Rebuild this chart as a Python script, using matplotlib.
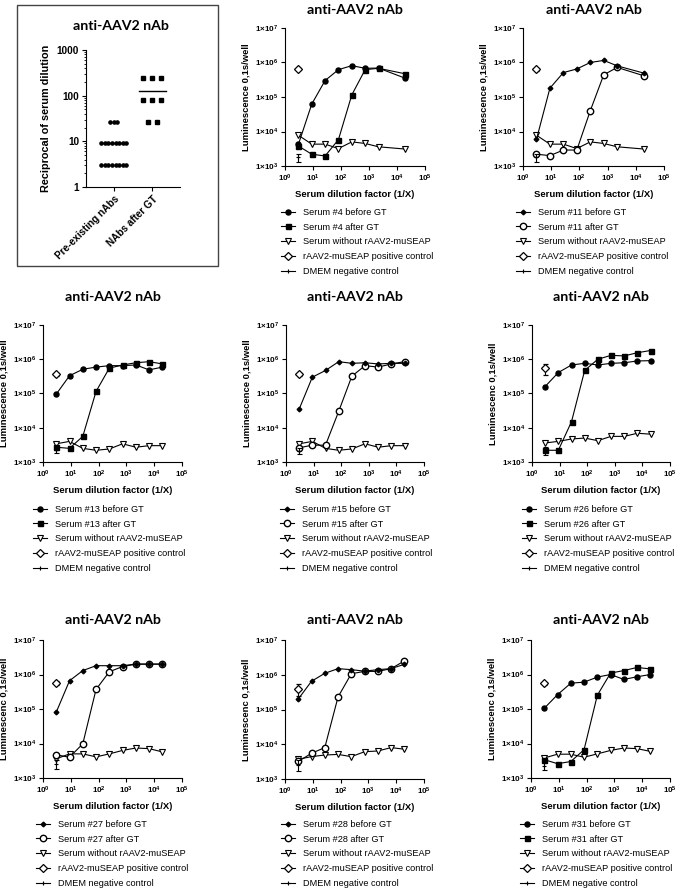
import numpy as np
import matplotlib
matplotlib.use('Agg')
import matplotlib.pyplot as plt
from matplotlib.ticker import FixedLocator, FuncFormatter, NullLocator, LogLocator, NullFormatter
from matplotlib.lines import Line2D
from matplotlib.patches import Rectangle

plt.rcParams['font.family'] = ['Liberation Sans', 'DejaVu Sans']
plt.rcParams['mathtext.fontset'] = 'custom'
plt.rcParams['mathtext.rm'] = 'Liberation Sans'
plt.rcParams['mathtext.bf'] = 'Liberation Sans:bold'
plt.rcParams['mathtext.it'] = 'Liberation Sans:italic'

# ---------------- data ----------------
TITLE = "anti-AAV2 nAb"
# panel A: titers
pre_titers = [27, 27, 27, 9, 9, 9, 9, 9, 9, 9, 9, 3, 3, 3, 3, 3, 3, 3, 3]
post_titers = [243, 243, 243, 81, 81, 81, 27, 27]
groupA = ["Pre-existing nAbs", "NAbs after GT"]

dil8 = [3, 9, 27, 81, 243, 729, 2187, 19683]
dil9 = [3, 9, 27, 81, 243, 729, 2187, 6561, 19683]

s4_before = [4.2e3, 6.2e4, 3.0e5, 6.2e5, 8.1e5, 6.8e5, 6.9e5, 3.5e5]
s4_after = [3.8e3, 2.2e3, 1.95e3, 5.8e3, 1.15e5, 6.2e5, 6.8e5, 4.7e5]
ctrl_4 = [7.8e3, 4.3e3, 4.3e3, 3.2e3, 5.0e3, 4.5e3, 3.6e3, 3.1e3]

s11_before = [5.9e3, 1.8e5, 5.1e5, 6.5e5, 1.0e6, 1.15e6, 8.0e5, 4.9e5]
s11_after = [2.2e3, 2.0e3, 2.9e3, 2.9e3, 4.0e4, 4.4e5, 7.2e5, 4.1e5]
ctrl_11 = [7.8e3, 4.3e3, 4.3e3, 3.2e3, 5.0e3, 4.5e3, 3.6e3, 3.1e3]

s13_before = [9.6e4, 3.3e5, 5.1e5, 5.9e5, 6.5e5, 6.5e5, 6.8e5, 4.9e5, 5.9e5]
s13_after = [2.7e3, 2.5e3, 5.6e3, 1.15e5, 5.5e5, 6.8e5, 7.9e5, 8.5e5, 7.3e5]
ctrl_13 = [3.4e3, 4.0e3, 2.5e3, 2.2e3, 2.4e3, 3.4e3, 2.7e3, 3.0e3, 3.0e3]

s15_before = [3.5e4, 3.0e5, 4.7e5, 8.5e5, 7.6e5, 7.9e5, 7.3e5, 7.6e5, 7.6e5]
s15_after = [2.6e3, 3.1e3, 3.1e3, 3.0e4, 3.2e5, 6.5e5, 5.9e5, 7.3e5, 8.5e5]
ctrl_15 = [3.4e3, 4.0e3, 2.5e3, 2.2e3, 2.4e3, 3.4e3, 2.7e3, 3.0e3, 3.0e3]

s26_before = [1.6e5, 4.1e5, 6.8e5, 7.6e5, 6.8e5, 7.6e5, 7.9e5, 8.9e5, 9.1e5]
s26_after = [2.2e3, 2.2e3, 1.5e4, 4.7e5, 1.0e6, 1.3e6, 1.25e6, 1.55e6, 1.8e6]
ctrl_26 = [3.6e3, 4.0e3, 4.7e3, 5.0e3, 4.2e3, 5.6e3, 5.6e3, 6.9e3, 6.5e3]

s27_before = [8.1e4, 6.6e5, 1.3e6, 1.8e6, 1.8e6, 1.8e6, 2.0e6, 2.0e6, 2.0e6]
s27_after = [4.7e3, 4.0e3, 9.8e3, 3.7e5, 1.2e6, 1.7e6, 2.0e6, 2.0e6, 2.0e6]
ctrl_27 = [3.6e3, 5.0e3, 5.0e3, 4.1e3, 5.0e3, 6.3e3, 7.4e3, 7.1e3, 5.7e3]

s28_before = [2.0e5, 6.5e5, 1.1e6, 1.5e6, 1.4e6, 1.27e6, 1.4e6, 1.5e6, 2.0e6]
s28_after = [3.2e3, 5.5e3, 8.0e3, 2.3e5, 1.07e6, 1.25e6, 1.25e6, 1.5e6, 2.5e6]
ctrl_28 = [3.7e3, 4.4e3, 4.9e3, 5.1e3, 4.4e3, 6.1e3, 6.4e3, 8.0e3, 7.2e3]

s31_before = [1.05e5, 2.6e5, 5.6e5, 6.0e5, 8.4e5, 1.0e6, 7.2e5, 8.6e5, 1.0e6]
s31_after = [3.4e3, 2.6e3, 3.0e3, 6.6e3, 2.5e5, 1.1e6, 1.3e6, 1.6e6, 1.45e6]
ctrl_31 = [3.8e3, 4.9e3, 4.9e3, 4.0e3, 5.0e3, 6.3e3, 7.4e3, 7.1e3, 5.9e3]

# positive control (mean, err) and DMEM negative (mean, err) per panel
pos_vals = {"4": (6.5e5, 0.6e5), "11": (6.3e5, 0.6e5), "13": (3.6e5, 0.3e5), "15": (3.6e5, 0.3e5),
            "26": (5.5e5, 2.0e5), "27": (5.6e5, 0.8e5), "28": (4.0e5, 1.5e5), "31": (5.6e5, 0.6e5)}
neg_vals = {"4": (1.8e3, 0.5e3), "11": (1.8e3, 0.5e3), "13": (2.2e3, 0.4e3), "15": (2.1e3, 0.4e3),
            "26": (2.2e3, 0.6e3), "27": (2.6e3, 0.8e3), "28": (2.6e3, 0.9e3), "31": (2.3e3, 0.6e3)}

# ---------------- figure ----------------
W, H = 685, 896
fig = plt.figure(figsize=(W / 100, H / 100), dpi=100)


def add_ax(x0, x1, y0, y1):
    return fig.add_axes([x0 / W, 1 - y1 / H, (x1 - x0) / W, (y1 - y0) / H])


TITLE_FONT = dict(family=['Lato', 'DejaVu Sans'], fontweight='bold', fontsize=10.2)
LW = 0.8

st_circle_f = dict(marker='o', ms=3.6, mfc='k', mec='k')
st_square_f = dict(marker='s', ms=3.6, mfc='k', mec='k')
st_diam_f = dict(marker='D', ms=2.4, mfc='k', mec='k')
st_circle_o = dict(marker='o', ms=4.6, mfc='white', mec='k', mew=1.0)
st_tri = dict(marker='v', ms=4.8, mfc='white', mec='k', mew=0.8)
st_pos = dict(marker='D', ms=3.8, mfc='white', mec='k', mew=0.9)
st_neg = dict(marker='+', ms=3.2, mec='k', mew=0.8)


def style_lum(ax, ylabel):
    ax.set_xscale('log')
    ax.set_yscale('log')
    ax.set_xlim(1, 1e5)
    ax.set_ylim(1e3, 1e7)
    for s in ['top', 'right']:
        ax.spines[s].set_visible(False)
    for s in ['left', 'bottom']:
        ax.spines[s].set_linewidth(LW)
    ax.xaxis.set_major_locator(FixedLocator([10.0 ** e for e in range(0, 6)]))
    ax.yaxis.set_major_locator(FixedLocator([10.0 ** e for e in range(3, 8)]))
    ax.xaxis.set_minor_locator(NullLocator())
    ax.yaxis.set_minor_locator(NullLocator())
    ax.xaxis.set_major_formatter(FuncFormatter(lambda v, p: r"$\mathbf{10^{%d}}$" % round(np.log10(v))))
    ax.yaxis.set_major_formatter(FuncFormatter(lambda v, p: r"$\mathbf{1{\times}10^{%d}}$" % round(np.log10(v))))
    ax.tick_params(length=3, width=LW, labelsize=5.8, pad=2)
    ax.set_xlabel("Serum dilution factor (1/X)", fontsize=6.8, fontweight='bold', labelpad=4)
    ax.set_ylabel(ylabel, fontsize=6.8, fontweight='bold', labelpad=3)


def lum_panel(rect, title_y, key, xs, before, after, ctrl, st_b, st_a, ylabel, leg_xy):
    ax = add_ax(*rect)
    style_lum(ax, ylabel)
    ax.plot(xs, ctrl, color='k', lw=LW, zorder=3, **st_tri)
    ax.plot(xs, after, color='k', lw=LW, zorder=4, **st_a)
    ax.plot(xs, before, color='k', lw=LW, zorder=5, **st_b)
    pm, pe = pos_vals[key]
    ax.errorbar([xs[0]], [pm], yerr=[[pe], [pe]], color='k', lw=LW, capsize=1.8, capthick=LW,
                zorder=6, **st_pos)
    nm, ne = neg_vals[key]
    ax.errorbar([xs[0]], [nm], yerr=[[ne], [ne]], color='k', lw=LW, capsize=1.8, capthick=LW,
                zorder=6, **st_neg)
    x0, x1 = rect[0], rect[1]
    fig.text((x0 + x1) / 2 / W, 1 - title_y / H, TITLE, ha='center', va='center', **TITLE_FONT)
    handles = [Line2D([], [], color='k', lw=LW, **st_b), Line2D([], [], color='k', lw=LW, **st_a),
               Line2D([], [], color='k', lw=LW, **st_tri), Line2D([], [], color='k', lw=LW, **st_pos),
               Line2D([], [], color='k', lw=LW, **st_neg)]
    labels = ["Serum #%s before GT" % key, "Serum #%s after GT" % key, "Serum without rAAV2-muSEAP",
              "rAAV2-muSEAP positive control", "DMEM negative control"]
    fig.legend(handles, labels, loc='upper left', bbox_to_anchor=(leg_xy[0] / W, 1 - leg_xy[1] / H),
               frameon=False, fontsize=6.6, handlelength=1.5, handletextpad=0.9, labelspacing=0.62,
               borderpad=0, borderaxespad=0, numpoints=1)
    return ax


# ---------- panel A ----------
fig.add_artist(Rectangle((17 / W, 1 - 266 / H), (218 - 17) / W, (266 - 5) / H, transform=fig.transFigure,
                         fill=False, ec='#444444', lw=1.0))
axA = add_ax(86, 180, 50, 187)
axA.set_yscale('log')
axA.set_ylim(1, 1000)
axA.set_xlim(-0.72, 1.72)
for s in ['top', 'right']:
    axA.spines[s].set_visible(False)
for s in ['left', 'bottom']:
    axA.spines[s].set_linewidth(LW)


def swarm(vals, center, spacing):
    vals = np.asarray(vals, dtype=float)
    xs = np.zeros_like(vals)
    for v in np.unique(vals):
        idx = np.where(vals == v)[0]
        n = len(idx)
        xs[idx] = center + (np.arange(n) - (n - 1) / 2) * spacing
    return xs, vals


xp, yp = swarm(pre_titers, 0, 0.092)
axA.plot(xp, yp, 'o', ms=2.3, color='k', mec='k')
xq, yq = swarm(post_titers, 1, 0.23)
axA.plot(xq, yq, 's', ms=3.0, color='k', mec='k')
axA.plot([-0.34, 0.34], [np.mean(pre_titers)] * 2, color='k', lw=1.0)
axA.plot([1 - 0.35, 1 + 0.35], [np.mean(post_titers)] * 2, color='k', lw=1.0)
axA.set_xticks([0, 1])
axA.set_xticklabels(groupA, rotation=45, ha='right', rotation_mode='anchor', fontsize=7.5, fontweight='bold')
axA.yaxis.set_major_locator(FixedLocator([1, 10, 100, 1000]))
axA.yaxis.set_major_formatter(FuncFormatter(lambda v, p: "%d" % v))
axA.yaxis.set_minor_locator(LogLocator(base=10, subs=np.arange(2, 10)))
axA.yaxis.set_minor_formatter(NullFormatter())
axA.tick_params(which='major', length=3, width=LW, labelsize=7.2, pad=2)
axA.tick_params(which='minor', length=1.8, width=0.6)
axA.set_ylabel("Reciprocal of serum dilution", fontsize=7.8, fontweight='bold', labelpad=4)
for lbl in axA.get_yticklabels():
    lbl.set_fontweight('bold')
fig.text(121 / W, 1 - 26 / H, TITLE, ha='center', va='center', **TITLE_FONT)

# ---------- line panels ----------
lum_panel((285, 425, 28, 166), 10, "4", dil8, s4_before, s4_after, ctrl_4, st_circle_f, st_square_f,
          "Luminescence 0,1s/well", (281, 208))
lum_panel((523, 664, 28, 166), 10, "11", dil8, s11_before, s11_after, ctrl_11, st_diam_f, st_circle_o,
          "Luminescence 0,1s/well", (516, 208))
lum_panel((43, 182, 325, 462), 297, "13", dil9, s13_before, s13_after, ctrl_13, st_circle_f, st_square_f,
          "Luminescence 0,1s/well", (33, 505))
lum_panel((286, 424, 325, 462), 297, "15", dil9, s15_before, s15_after, ctrl_15, st_diam_f, st_circle_o,
          "Luminescence 0,1s/well", (280, 505))
lum_panel((532, 670, 325, 462), 297, "26", dil9, s26_before, s26_after, ctrl_26, st_circle_f, st_square_f,
          "Luminescenc 0,1s/well", (522, 505))
lum_panel((43, 182, 640, 778), 620, "27", dil9, s27_before, s27_after, ctrl_27, st_diam_f, st_circle_o,
          "Luminescenc 0,1s/well", (36, 820))
lum_panel((285, 424, 640, 779), 620, "28", dil9, s28_before, s28_after, ctrl_28, st_diam_f, st_circle_o,
          "Luminescenc 0,1s/well", (281, 820))
lum_panel((531, 670, 640, 778), 620, "31", dil9, s31_before, s31_after, ctrl_31, st_circle_f, st_square_f,
          "Luminescenc 0,1s/well", (520, 820))

fig.savefig("out.png", dpi=100)
